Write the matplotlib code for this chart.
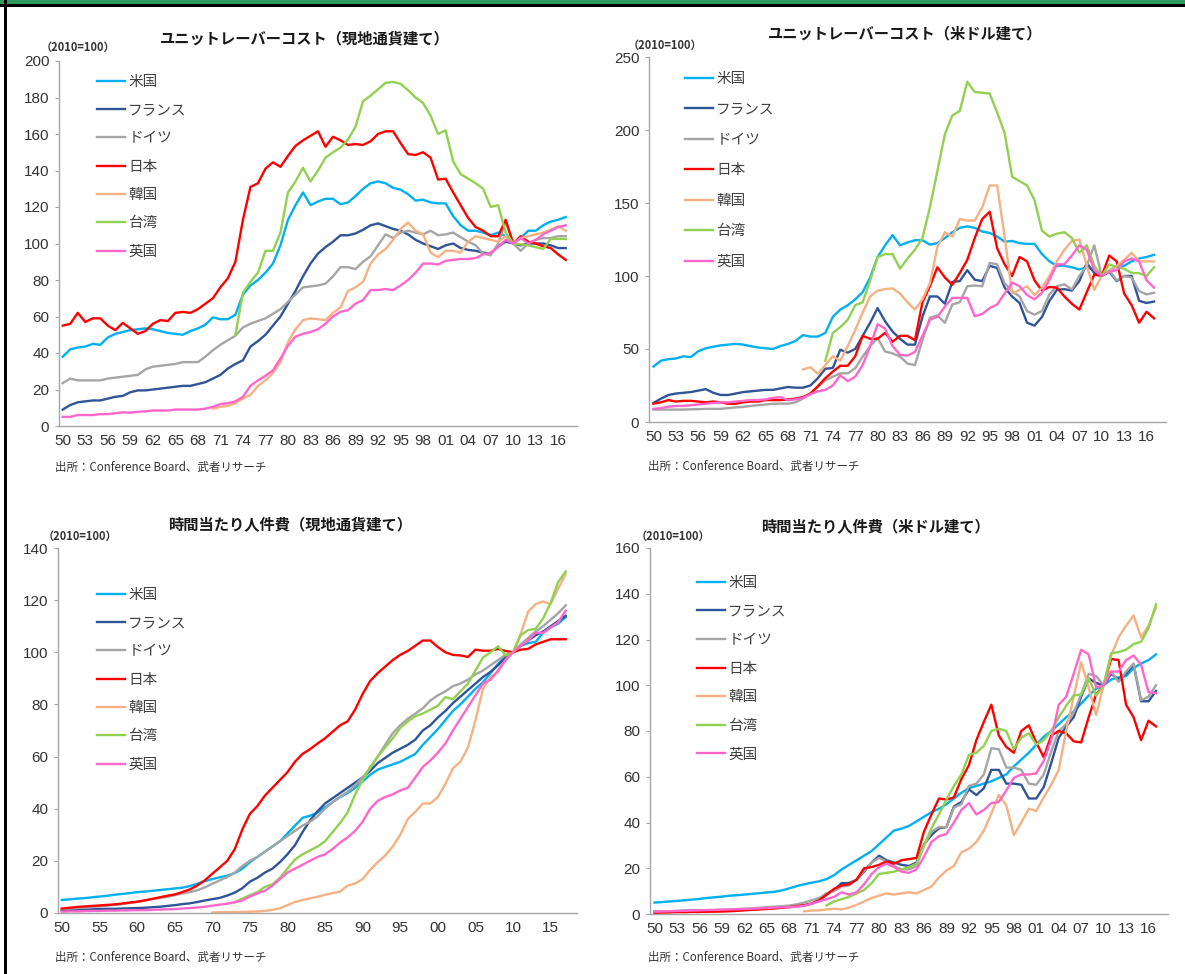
import matplotlib
matplotlib.use('Agg')
import matplotlib.pyplot as plt
from matplotlib import font_manager
from matplotlib.patches import Rectangle

W, H = 1185, 974

years = list(range(1950, 2018))
years_kr = list(range(1970, 2018))
years_tw = list(range(1973, 2018))

countries = ['米国', 'フランス', 'ドイツ', '日本', '韓国', '台湾', '英国']
colors = ['#00B0F0', '#2F5597', '#A5A5A5', '#FF0000', '#F4B183', '#92D050', '#FF66CC']

# --- unit labour cost, local currency (2010=100)
ulc_lc_us = [38, 42, 43, 43.5, 45, 44.5, 48.5, 50.5, 51.5, 52.5,
             53, 53.5, 53, 52, 51, 50.5, 50, 52, 53.5, 55.5,
             59.5, 58.5, 58.5, 61, 72, 77, 80, 84, 89, 99,
             113, 121, 128, 121, 123, 124.5, 124.5, 121.5, 122.5, 126,
             130, 133, 134, 133, 130.5, 129.5, 127, 123.5, 124, 122.5,
             122, 122, 115, 110, 107, 107, 106, 104.5, 106, 104,
             100, 103, 107, 107, 110, 112, 113, 114.5]
ulc_lc_fr = [9, 11.5, 13, 13.5, 14, 14, 15, 16, 16.5, 18.5,
             19.5, 19.5, 20, 20.5, 21, 21.5, 22, 22, 23, 24,
             26, 28, 31.5, 34, 36, 43.5, 46.5, 50, 55, 60,
             67, 74, 82, 89, 94.5, 98, 101, 104.5, 104.5, 105.5,
             107.5, 110, 111, 109.5, 108, 107, 105, 102, 100, 98.5,
             97, 99, 100, 97.5, 96.5, 96, 95, 94.5, 98.5, 101,
             100, 99, 100, 100, 100, 99, 97.5, 97.5]
ulc_lc_de = [23.5, 26, 25, 25, 25, 25, 26, 26.5, 27, 27.5,
             28, 31, 32.5, 33, 33.5, 34, 35, 35, 35, 38,
             41.5, 44.5, 47, 49.5, 54, 56, 57.5, 59, 61.5, 64,
             68, 72, 76, 76.5, 77, 78, 82, 87, 87, 86,
             90, 93, 99, 105, 103, 106, 107, 106, 105, 107,
             104.5, 105, 106, 103.5, 101, 99, 94.5, 93.5, 100, 112,
             100, 96, 100, 102, 103, 103, 104, 104]
ulc_lc_jp = [55, 56, 62, 57, 59, 59, 55, 52.5, 56.5, 53.5,
             50.5, 52, 56, 58, 57.5, 62, 62.5, 62, 64, 67,
             70, 76, 81, 90, 113, 131, 133, 141, 144.5, 142,
             148, 153.5, 156.5, 159, 161.5, 153, 158.5, 156.5, 154, 154.5,
             154, 156, 160, 161.5, 161.5, 155, 149, 148.5, 150, 147,
             135, 135.5, 128, 121, 114, 109, 107, 104, 104, 113,
             100, 104, 101, 100, 98.5, 97.5, 94, 91]
ulc_lc_kr = [9.5, 10.5, 11, 12.5, 15, 17, 22, 25, 29, 35,
             46, 53, 58, 59, 58.5, 58, 62, 65, 74, 76,
             79, 89, 94, 97, 102, 108, 111.5, 107, 105, 95,
             92.5, 96, 96, 95, 101, 104, 103, 102, 101, 104,
             100, 103, 104, 105, 106, 107.5, 109.5, 107]
ulc_lc_tw = [50, 73, 79, 84, 96, 96, 106,
             128, 134, 141.5, 134, 140, 147, 150, 152.5, 157, 164,
             178, 181, 184.5, 188, 188.5, 187.5, 184, 180, 177, 170,
             160, 162, 145, 138, 135.5, 133, 130, 120, 121, 106,
             100, 99.5, 99, 98, 97, 102.5, 102.5, 102.5]
ulc_lc_uk = [5, 5, 6, 6, 6, 6.5, 6.5, 7, 7.5, 7.3,
             7.8, 8, 8.5, 8.5, 8.5, 9, 9, 9, 9, 9.5,
             10.5, 12, 12.5, 13.5, 16, 22, 25, 27.5, 30.5, 37,
             44, 49, 50.5, 51.5, 53, 56, 60, 62.6, 63.5, 67,
             69, 74.5, 74.5, 75, 74.5, 77, 80, 84, 89, 89,
             88.5, 90.5, 91, 91.5, 91.5, 92, 94, 95, 98, 102,
             100, 103, 100, 102, 105, 107, 109, 110]

# --- unit labour cost, US dollars (2010=100)
ulc_usd_fr = [13, 16, 18.5, 19.5, 20, 20.5, 21.5, 22.5, 20, 18.5,
              18.5, 19.5, 20.5, 21, 21.5, 22, 22, 23, 24, 23.5,
              23.5, 25, 30, 36.5, 37, 49.5, 47.5, 50, 59, 68,
              78, 69, 62, 57, 53, 53, 72, 86, 86, 81,
              96, 96.5, 104, 97.5, 96.5, 107, 105.5, 92, 86, 81.5,
              68, 66, 72, 83, 90.5, 91, 90, 96.5, 109, 102,
              100, 103, 96.5, 100, 100, 83, 81.5, 82.5]
ulc_usd_de = [8.5, 8.5, 8.5, 8.5, 8.5, 8.7, 8.8, 9, 9, 9,
              9.5, 10, 10.3, 11, 11.5, 12, 12.5, 12.6, 12.6, 13.5,
              16, 19.5, 24, 28.5, 31, 33.3, 33.3, 36.8, 44.8, 52,
              57.5, 48.3, 47, 44.8, 40, 39, 56, 71.3, 73, 68,
              80.5, 82, 93, 93.5, 93, 109, 108, 95, 89.7, 86,
              76, 73.5, 76, 87.4, 93, 94.3, 90.8, 100, 107, 121,
              100, 104, 97, 100, 99, 89.7, 87.4, 88.5]
ulc_usd_jp = [12.6, 13.5, 15, 14, 14.5, 14.5, 14, 13.5, 14, 13.5,
              12.5, 12.5, 13.5, 14, 14, 15, 15, 15, 15.5, 16,
              17, 19.5, 24.5, 30, 34.5, 38.5, 38.5, 45, 59, 57,
              57, 61, 55, 59, 59, 56, 82, 93, 106, 99,
              94, 102, 111, 126, 139, 144, 119, 108, 100, 113,
              110, 97, 90, 92.5, 92, 86, 81, 77, 89, 101,
              100, 114, 110, 88, 80, 68, 75.5, 71]
ulc_usd_kr = [36, 37.5, 33, 39, 45, 42, 52, 63, 75, 86,
              90, 91, 91.5, 88, 82, 77, 84, 95, 120, 130,
              127, 139, 138, 138, 147, 162, 162, 127, 88, 90.5,
              93, 87, 92, 100, 110, 118, 124, 125, 107, 90.5,
              100, 104, 107, 111, 116, 110, 110, 110]
ulc_usd_tw = [42, 61, 65, 70, 80, 82, 97,
              113, 115, 115, 105, 112, 118, 126, 147, 172, 197,
              210, 213, 233, 226, 225.5, 225, 212, 198, 168, 165,
              162, 152, 131, 127, 129, 130, 126, 116, 121, 107,
              100, 108, 106, 105, 102, 102, 100, 106]
ulc_usd_uk = [9, 9.5, 10.5, 11, 11, 11.5, 12, 12.5, 13, 13.5,
              13.5, 14, 14.5, 15, 15, 15.5, 16.5, 17, 15, 15.5,
              16.5, 19, 21, 22, 25, 32, 28, 31, 39, 52,
              67, 64, 52, 46, 45.5, 48, 59, 70, 72, 79,
              85, 85, 85, 72.5, 74, 78, 80.5, 88, 95.5, 93,
              87, 84, 88.5, 97.5, 108, 108, 114, 121, 118, 104,
              100, 103, 104, 110, 112, 110, 97, 92]

# --- hourly labour cost, local currency (2010=100)
hlc_lc_us = [5, 5.2, 5.5, 5.7, 6, 6.3, 6.6, 7, 7.3, 7.6,
             8, 8.2, 8.5, 8.8, 9.1, 9.4, 9.7, 10.3, 11.2, 12.2,
             13, 13.7, 14.3, 15.3, 17, 19.5, 21.5, 23.5, 25.5, 27.5,
             30.5, 33.5, 36.5, 37.3, 38.5, 40.5, 42.5, 44.5, 46, 48,
             50.5, 53, 55, 56, 57, 58, 59.5, 61, 64.5, 67.5,
             70.5, 74, 77.5, 80, 83, 86, 88.5, 92, 95.5, 98.5,
             100, 102.5, 103.5, 104, 107.5, 109.5, 111, 113.5]
hlc_lc_fr = [1, 1.1, 1.2, 1.3, 1.4, 1.5, 1.6, 1.6, 1.7, 1.8,
             1.9, 2, 2.2, 2.4, 2.7, 3, 3.4, 3.7, 4.2, 4.8,
             5.3, 5.8, 6.7, 7.8, 9.5, 12, 13.5, 15.5, 17, 19.5,
             22.5, 26, 31, 35.5, 39, 42, 44, 46, 48, 50,
             52, 54.5, 57.5, 59.5, 61.5, 63, 64.5, 66.5, 70, 72,
             75, 77.5, 80.5, 83, 85.5, 88, 90.5, 92.5, 95, 98,
             100, 102.5, 104.5, 106.5, 108, 110, 112, 114]
hlc_lc_de = [1.5, 1.7, 1.9, 2.1, 2.3, 2.5, 2.8, 3.1, 3.4, 3.8,
             4.3, 4.8, 5.3, 5.7, 6.2, 6.8, 7.5, 8, 8.7, 9.8,
             11.2, 12.5, 13.8, 15.5, 18, 20, 21.5, 23.5, 25.5, 27.5,
             29.5, 31.5, 33.5, 35, 37, 40, 42.5, 44.5, 46.5, 49,
             52, 55.5, 60, 64.5, 69, 72, 74.5, 76.5, 78.5, 81.5,
             83.5, 85, 87, 88, 89.5, 91.5, 93, 95, 97, 99,
             100, 103, 105.5, 108, 110, 112.5, 115, 118]
hlc_lc_jp = [1.7, 2, 2.3, 2.5, 2.7, 2.9, 3.1, 3.3, 3.6, 4,
             4.3, 4.8, 5.4, 6, 6.6, 7.1, 8, 9, 10.5, 12.5,
             15, 17.5, 20, 24.5, 32, 38, 41, 45, 48, 51,
             54, 58, 61, 62.8, 65, 67, 69.5, 72, 73.5, 78,
             84, 89, 92, 94.5, 97, 99, 100.5, 102.5, 104.5, 104.5,
             102, 100, 99, 98.8, 98.2, 101, 100.6, 100.6, 101.3, 100.5,
             100, 101, 101.3, 103, 104, 105, 105, 105]
hlc_lc_kr = [0.2, 0.3, 0.3, 0.4, 0.4, 0.5, 0.6, 0.8, 1.2, 1.8,
             3, 4.2, 5, 5.6, 6.2, 7, 7.6, 8.2, 10.5, 11.3,
             13, 16.5, 19.5, 22, 25.5, 30, 36, 38.8, 42, 42,
             44.5, 49.5, 55.5, 58, 63.5, 74, 86, 90.5, 92.5, 97,
             100, 107, 115.5, 118.5, 119.5, 118.5, 124.5, 130]
hlc_lc_tw = [4.2, 5.5, 6.8, 8, 10, 11, 13.5,
             17, 20.5, 22.5, 24, 25.5, 27.5, 31, 34.5, 38.5, 45.5,
             51, 56, 60, 63.5, 67, 71, 73.5, 75.5, 76.5, 78,
             79.5, 82.8, 82, 85, 88, 93, 98, 100, 102.3, 98.8,
             100, 106.5, 108.5, 109, 113, 119, 127, 131]
hlc_lc_uk = [0.5, 0.6, 0.6, 0.7, 0.8, 0.8, 0.9, 0.9, 1, 1,
             1.1, 1.1, 1.2, 1.3, 1.4, 1.5, 1.7, 1.9, 2.1, 2.4,
             2.8, 3.2, 3.6, 4.1, 4.8, 6.3, 7.5, 8.5, 10.5, 13,
             15.5, 17, 18.5, 20, 21.5, 22.5, 24.5, 27, 29, 31.5,
             35, 40, 43, 44.5, 45.5, 47, 48, 52, 56, 58.5,
             61.5, 65, 70, 74.5, 79, 83.5, 88, 89.5, 93, 97,
             100, 102.5, 104.5, 107.5, 107.5, 109.5, 111.5, 116]

# --- hourly labour cost, US dollars (2010=100)
hlc_usd_fr = [1, 1.1, 1.2, 1.3, 1.4, 1.5, 1.6, 1.7, 1.6, 1.5,
              1.6, 1.7, 1.9, 2.1, 2.3, 2.5, 2.7, 3, 3.4, 3.6,
              3.8, 4.5, 6, 8.5, 10.5, 13.5, 13.5, 15, 18.5, 22.5,
              25.5, 23.5, 22.5, 21.5, 21, 22.5, 30.5, 34.5, 37.5, 38,
              47, 49, 54.5, 52, 55, 63, 63, 57, 57, 56.5,
              50.5, 50.5, 55.5, 66, 77, 82, 86, 95, 103, 101,
              100, 105, 102.5, 105, 109, 93, 93, 97.5]
hlc_usd_de = [1, 1, 1.1, 1.2, 1.3, 1.4, 1.5, 1.6, 1.7, 1.8,
              1.9, 2.1, 2.3, 2.5, 2.7, 3, 3.2, 3.4, 3.7, 4.2,
              5, 6, 7, 9, 10, 12, 12.5, 15, 19, 22.5,
              24.5, 23, 21, 19.5, 19.5, 21, 30, 36, 38, 38,
              46.5, 48, 56, 57, 61, 72.5, 72, 64, 64, 63,
              57, 56.5, 61, 71, 80, 83, 88, 96, 105, 104,
              100, 106, 101.5, 106, 109.5, 93.5, 95, 100]
hlc_usd_jp = [0.5, 0.6, 0.7, 0.8, 0.8, 0.9, 0.9, 1, 1, 1.1,
              1.2, 1.4, 1.6, 1.8, 2, 2.2, 2.4, 2.7, 3, 3.4,
              3.8, 4.6, 6, 8.5, 11, 12.5, 13, 15, 20, 20.5,
              21.5, 23, 22, 23.5, 24, 24.5, 36, 43.5, 50.5, 50,
              51, 59, 65, 76, 84, 91.5, 78, 73, 70.5, 80,
              82.5, 75, 68.5, 78, 80, 79, 75.5, 75, 86, 96,
              100, 111.5, 111, 91.5, 86, 76, 84.5, 82]
hlc_usd_kr = [1.2, 1.5, 1.6, 2, 2.3, 2, 2.8, 4, 5.5, 7,
              8, 9, 8.5, 9, 9.5, 9, 10.5, 12, 16, 19,
              21, 27, 28.5, 31.5, 36.5, 44, 52, 47.5, 34.5, 40,
              46, 45, 51, 56.5, 63, 80, 95, 110, 99, 87,
              100, 113, 121, 126, 130.5, 121, 126, 134]
hlc_usd_tw = [3.8, 5.5, 6.5, 7.5, 9, 10.5, 13.5,
              17.5, 18, 18.5, 19.5, 20.5, 22, 30, 37.5, 43.5, 50,
              56, 61, 69.5, 70.5, 73.5, 80, 81, 80, 72, 77,
              79, 74, 76, 80, 86, 91, 95.5, 96, 103, 95.5,
              100, 114, 114.5, 115.5, 118, 119, 125, 135.5]
hlc_usd_uk = [1, 1.1, 1.2, 1.3, 1.4, 1.5, 1.6, 1.7, 1.8, 1.9,
              2, 2.1, 2.2, 2.3, 2.5, 2.6, 2.8, 2.9, 3, 3.2,
              3.6, 4.5, 5.5, 6.5, 7.5, 9.5, 8.5, 9.5, 13, 17.5,
              20.5, 22, 20.5, 18.5, 18, 19.5, 25, 31.5, 34, 35,
              40, 45.5, 48.5, 43.5, 45.5, 48.5, 49, 54, 59.5, 61,
              61, 61.5, 67, 76, 91.5, 95, 105, 115.5, 113.5, 99,
              100, 106, 106, 111, 113, 109, 97, 96.5]


def pick_font(names):
    avail = {f.name for f in font_manager.fontManager.ttflist}
    for n in names:
        if n in avail:
            return n
    return 'DejaVu Sans'


num_font = pick_font(['Liberation Sans', 'Arial'])
plt.rcParams['font.family'] = ['Noto Sans CJK JP', 'DejaVu Sans']


def px_rect(left, top, right, bottom):
    return [left / W, 1 - bottom / H, (right - left) / W, (bottom - top) / H]


def fx(x):
    return x / W


def fy(y):
    return 1 - y / H


fig = plt.figure(figsize=(W / 100, H / 100), dpi=100)

# frame of the original page
fig.patches.append(Rectangle((0, fy(4)), 1, 4 / H, transform=fig.transFigure,
                             facecolor='#2E9A5E', edgecolor='none'))
fig.patches.append(Rectangle((0, fy(7)), 1, 3 / H, transform=fig.transFigure,
                             facecolor='black', edgecolor='none'))
fig.patches.append(Rectangle((fx(4), 0), 3 / W, 1, transform=fig.transFigure,
                             facecolor='black', edgecolor='none'))

panels = [
    dict(box=(59, 61, 577, 426), xlim=(1949.5, 2018.5), ymax=200, ystep=20, xstep=3,
         title='ユニットレーバーコスト（現地通貨建て）', tpos=(305, 38),
         upos=(78, 47), spos=(55, 467), leg=(97, 70), lspace=0.98,
         data=[(years, ulc_lc_us), (years, ulc_lc_fr), (years, ulc_lc_de),
               (years, ulc_lc_jp), (years_kr, ulc_lc_kr), (years_tw, ulc_lc_tw),
               (years, ulc_lc_uk)]),
    dict(box=(649, 57, 1166, 422), xlim=(1949.4, 2018.6), ymax=250, ystep=50, xstep=3,
         title='ユニットレーバーコスト（米ドル建て）', tpos=(905, 33),
         upos=(665, 45), spos=(648, 466), leg=(685, 67), lspace=1.13,
         data=[(years, ulc_lc_us), (years, ulc_usd_fr), (years, ulc_usd_de),
               (years, ulc_usd_jp), (years_kr, ulc_usd_kr), (years_tw, ulc_usd_tw),
               (years, ulc_usd_uk)]),
    dict(box=(58, 548, 577, 913), xlim=(1949.5, 2018.5), ymax=140, ystep=20, xstep=5,
         title='時間当たり人件費（現地通貨建て）', tpos=(290, 525),
         upos=(80, 536), spos=(55, 957), leg=(97, 583), lspace=0.98,
         data=[(years, hlc_lc_us), (years, hlc_lc_fr), (years, hlc_lc_de),
               (years, hlc_lc_jp), (years_kr, hlc_lc_kr), (years_tw, hlc_lc_tw),
               (years, hlc_lc_uk)]),
    dict(box=(650, 548, 1168, 914), xlim=(1949.4, 2018.6), ymax=160, ystep=20, xstep=3,
         title='時間当たり人件費（米ドル建て）', tpos=(875, 527),
         upos=(673, 536), spos=(648, 957), leg=(697, 571), lspace=1.0,
         data=[(years, hlc_lc_us), (years, hlc_usd_fr), (years, hlc_usd_de),
               (years, hlc_usd_jp), (years_kr, hlc_usd_kr), (years_tw, hlc_usd_tw),
               (years, hlc_usd_uk)]),
]

axis_grey = '#A6A6A6'
text_col = '#333333'

for p in panels:
    ax = fig.add_axes(px_rect(*p['box']))
    for (xs, ys), name, col in zip(p['data'], countries, colors):
        ax.plot(xs, ys, color=col, lw=1.7, label=name, solid_joinstyle='round')

    ax.set_xlim(*p['xlim'])
    ax.set_ylim(0, p['ymax'])
    ax.set_yticks(range(0, p['ymax'] + 1, p['ystep']))
    xt = list(range(1950, 2018, p['xstep']))
    ax.set_xticks(xt)
    ax.set_xticklabels(['%02d' % (y % 100) for y in xt])

    for s in ['top', 'right']:
        ax.spines[s].set_visible(False)
    for s in ['left', 'bottom']:
        ax.spines[s].set_color(axis_grey)
        ax.spines[s].set_linewidth(1.0)

    ax.tick_params(axis='y', direction='out', length=3, width=0.8, color=axis_grey,
                   pad=4, labelsize=11, labelcolor=text_col)
    ax.tick_params(axis='x', direction='out', length=0, pad=6,
                   labelsize=11, labelcolor=text_col)
    for lab in ax.get_xticklabels() + ax.get_yticklabels():
        lab.set_fontfamily(num_font)

    # first legend row sits a few pixels lower than the anchor
    leg = ax.legend(loc='upper left',
                    bbox_to_anchor=(fx(p['leg'][0]), fy(p['leg'][1] + 5)),
                    bbox_transform=fig.transFigure, frameon=False, fontsize=10.5,
                    handlelength=1.9, handletextpad=0.25, labelspacing=p['lspace'],
                    borderpad=0, borderaxespad=0)
    for t in leg.get_texts():
        t.set_color('#404040')

    fig.text(fx(p['tpos'][0]), fy(p['tpos'][1]), p['title'], ha='center', va='center',
             fontsize=11, fontweight='bold', color='#1a1a1a')
    fig.text(fx(p['upos'][0]), fy(p['upos'][1]), '（2010=100）', ha='center', va='center',
             fontsize=8, fontweight='bold', color='#333333')
    fig.text(fx(p['spos'][0]), fy(p['spos'][1]), '出所：Conference Board、武者リサーチ',
             ha='left', va='center', fontsize=8.3, color='#333333')

fig.savefig('out.png', dpi=100, facecolor='white')
